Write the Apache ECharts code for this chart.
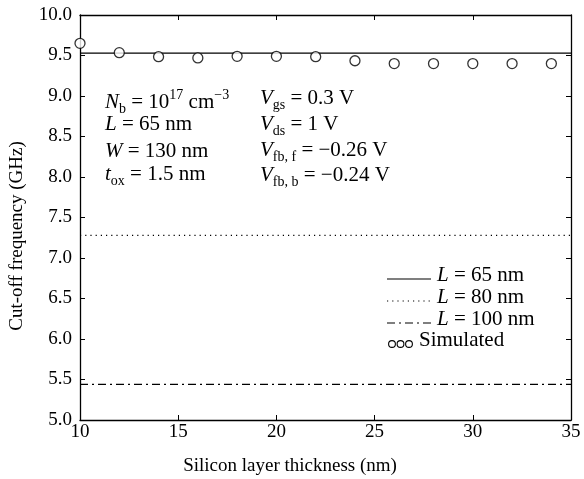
<!DOCTYPE html>
<html>
<head>
<meta charset="utf-8">
<script src="https://cdn.jsdelivr.net/npm/echarts@6/dist/echarts.min.js"></script>
<style>
  html, body { margin: 0; padding: 0; background: #fff; }
  #chart { width: 584px; height: 479px; }
</style>
</head>
<body>
<div id="chart"></div>
<script>
// Silicon layer thickness sweep (nm)
const thicknessRange = [10, 35];
// Analytical model: cut-off frequency (GHz) per gate length
const modelL65 = 9.53;
const modelL80 = 7.28;
const modelL100 = 5.44;
// Simulated points (L = 65 nm)
const simThickness = [10, 12, 14, 16, 18, 20, 22, 24, 26, 28, 30, 32, 34];
const simFreq = [9.65, 9.535, 9.485, 9.47, 9.49, 9.49, 9.485, 9.435, 9.40, 9.40, 9.40, 9.40, 9.40];

const FONT = '"Liberation Serif", "DejaVu Serif", serif';
const chart = echarts.init(document.getElementById('chart'), null, { renderer: 'canvas' });

const flat = v => thicknessRange.map(x => [x, v]);
const simData = simThickness.map((x, i) => [x, simFreq[i]]);

const axisCommon = {
  axisLine: { show: true, onZero: false, lineStyle: { color: '#000', width: 1.3 } },
  axisTick: { show: true, inside: true, length: 5, lineStyle: { color: '#000', width: 1 } },
  splitLine: { show: false }
};

// rich-text styles for the parameter notes: upright, italic, subscript, superscript
const rich = {
  n: { fontFamily: FONT, fontSize: 21, color: '#000', lineHeight: 28, verticalAlign: 'middle' },
  i: { fontFamily: FONT, fontSize: 21, fontStyle: 'italic', color: '#000', lineHeight: 28, verticalAlign: 'middle' },
  sub: { fontFamily: FONT, fontSize: 14, color: '#000', lineHeight: 28, verticalAlign: 'bottom' },
  sup: { fontFamily: FONT, fontSize: 14, color: '#000', lineHeight: 28, verticalAlign: 'top' }
};

function note(x, y, text) {
  return { type: 'text', left: x, top: y, style: { text: text, rich: rich, fill: '#000' } };
}

function legendRow(y, label, dash) {
  return [
    { type: 'line', shape: { x1: 387, y1: y, x2: 431, y2: y },
      style: { stroke: '#000', lineWidth: 1.2, lineDash: dash } },
    note(437, y - 14, label)
  ];
}

const annotations = [
  note(105, 88, '{i|N}{sub|b}{n| = 10}{sup|17}{n| cm}{sup|−3}'),
  note(105, 114, '{i|L}{n| = 65 nm}'),
  note(105, 141, '{i|W}{n| = 130 nm}'),
  note(105, 164, '{i|t}{sub|ox}{n| = 1.5 nm}'),
  note(260, 88, '{i|V}{sub|gs}{n| = 0.3 V}'),
  note(260, 114, '{i|V}{sub|ds}{n| = 1 V}'),
  note(260, 140, '{i|V}{sub|fb, f}{n| = −0.26 V}'),
  note(260, 165, '{i|V}{sub|fb, b}{n| = −0.24 V}')
];

const simIcon = [392, 400.5, 409].map(cx => ({
  type: 'circle', shape: { cx: cx, cy: 344, r: 3.4 },
  style: { fill: 'none', stroke: '#000', lineWidth: 1.1 }
}));

const legendItems = [].concat(
  legendRow(279, '{i|L}{n| = 65 nm}', null),
  legendRow(301, '{i|L}{n| = 80 nm}', [1.2, 4]),
  legendRow(323, '{i|L}{n| = 100 nm}', [8, 4, 2, 4]),
  simIcon,
  [note(419, 330, '{n|Simulated}')]
);

const option = {
  backgroundColor: '#fff',
  animation: false,
  grid: { left: 80, top: 15, right: 13, bottom: 59, containLabel: false },
  xAxis: [
    Object.assign({}, axisCommon, {
      type: 'value', min: 10, max: 35, interval: 5, position: 'bottom',
      axisLabel: { color: '#000', fontFamily: FONT, fontSize: 19, margin: 3 }
    }),
    Object.assign({}, axisCommon, {
      type: 'value', min: 10, max: 35, interval: 5, position: 'top',
      axisLabel: { show: false }
    })
  ],
  yAxis: [
    Object.assign({}, axisCommon, {
      type: 'value', min: 5, max: 10, interval: 0.5, position: 'left',
      axisLabel: { color: '#000', fontFamily: FONT, fontSize: 19, margin: 8,
        formatter: v => v.toFixed(1) }
    }),
    Object.assign({}, axisCommon, {
      type: 'value', min: 5, max: 10, interval: 0.5, position: 'right',
      axisLabel: { show: false }
    })
  ],
  series: [
    { name: 'L = 65 nm', type: 'line', data: flat(modelL65), symbol: 'none',
      lineStyle: { color: '#000', width: 1.2, type: 'solid' }, z: 3 },
    { name: 'L = 80 nm', type: 'line', data: flat(modelL80), symbol: 'none',
      lineStyle: { color: '#000', width: 1.2, type: [1.2, 4] } },
    { name: 'L = 100 nm', type: 'line', data: flat(modelL100), symbol: 'none',
      lineStyle: { color: '#000', width: 1.2, type: [8, 4, 2, 4] } },
    { name: 'Simulated', type: 'scatter', data: simData, symbol: 'circle', symbolSize: 10,
      itemStyle: { color: '#fff', borderColor: '#000', borderWidth: 1.3 }, z: 4 }
  ],
  graphic: [].concat(annotations, legendItems, [
    { type: 'text', x: 290, y: 466, style: { text: 'Silicon layer thickness (nm)', fill: '#000',
        font: '19px ' + FONT, align: 'center', verticalAlign: 'middle' } },
    { type: 'text', x: 17, y: 236, rotation: Math.PI / 2, style: { text: 'Cut-off frequency (GHz)', fill: '#000',
        font: '19px ' + FONT, align: 'center', verticalAlign: 'middle' } }
  ])
};

chart.setOption(option);
</script>
</body>
</html>
